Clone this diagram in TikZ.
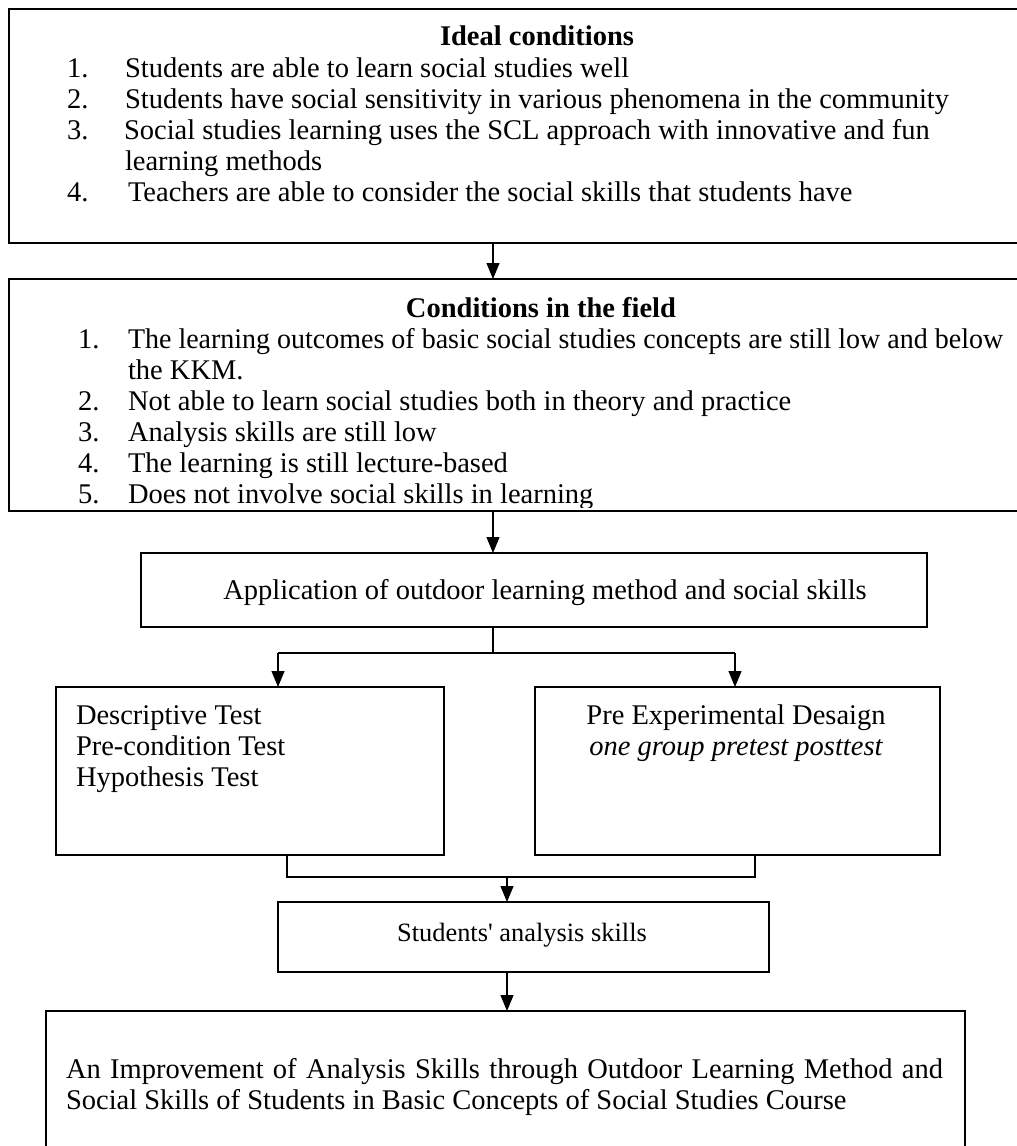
\documentclass[tikz,border=0pt]{standalone}
\usepackage{fontspec}
\usepackage{graphicx}
\setmainfont{Liberation Serif}
\usetikzlibrary{arrows.meta}
\newcommand{\myBody}{\fontsize{28.5}{31}\selectfont}
\newcommand{\myHead}{\fontsize{28.5}{31}\selectfont\bfseries}
\newcommand{\mySmall}{\fontsize{26.4}{30}\selectfont}
\begin{document}
\begin{tikzpicture}[x=1pt,y=-1pt,
  frame/.style={draw, line width=1.5pt, inner sep=0pt, outer sep=0pt},
  conn/.style={line width=1.1pt},
  arr/.style={conn, -{Triangle[length=16pt,width=13pt]}},
  txt/.style={inner sep=0pt, outer sep=0pt, font=\myBody},
  hd/.style={inner sep=0pt, outer sep=0pt, font=\myHead, anchor=base},
  lt/.style={txt, anchor=base west}
]
\useasboundingbox (0,0) rectangle (1017,1146);
\clip (0,0) rectangle (1017,1146);
\fill[white] (0,0) rectangle (1017,1146);

% boxes
\node[frame, minimum width=1031pt, minimum height=234pt] (box1) at (524.5,126) {};
\node[frame, minimum width=1031pt, minimum height=232pt] (box2) at (524.5,395) {};
\node[frame, minimum width=786pt, minimum height=74pt] (app) at (534,590) {};
\node[frame, minimum width=388pt, minimum height=168pt] (left) at (250,771) {};
\node[frame, minimum width=405pt, minimum height=168pt] (right) at (737.5,771) {};
\node[frame, minimum width=491pt, minimum height=70pt] (stud) at (523.5,937) {};
\node[frame, minimum width=919pt, minimum height=189pt] (final) at (505.5,1105.5) {};

% box 1 text
\node[hd] (h1) at (537,45) {Ideal conditions};
\node[lt] (n11) at (67,77) {1.};
\node[lt] (t11) at (125,77) {Students are able to learn social studies well};
\node[lt] (n12) at (67,108) {2.};
\node[lt] (t12) at (125,108) {Students have social sensitivity in various phenomena in the community};
\node[lt] (n13) at (67,139) {3.};
\node[lt] (t13) at (124,139) {Social studies learning uses the SCL approach with innovative and fun};
\node[lt] (t13b) at (125,170) {learning methods};
\node[lt] (n14) at (67,201) {4.};
\node[lt] (t14) at (128,201) {Teachers are able to consider the social skills that students have};

% box 2 text (clipped inside the frame)
\begin{scope}
\clip (box2.north west) rectangle ([yshift=4pt]box2.south east);
\node[hd] (h2) at (541,317) {Conditions in the field};
\node[lt] (n21) at (78,348) {1.};
\node[lt] (t21) at (128,348) {\scalebox{0.982}[1]{The learning outcomes of basic social studies concepts are still low and below}};
\node[lt] (t21b) at (128,379) {the KKM.};
\node[lt] (n22) at (78,410) {2.};
\node[lt] (t22) at (128,410) {Not able to learn social studies both in theory and practice};
\node[lt] (n23) at (78,441) {3.};
\node[lt] (t23) at (128,441) {Analysis skills are still low};
\node[lt] (n24) at (78,472) {4.};
\node[lt] (t24) at (128,472) {The learning is still lecture-based};
\node[lt] (n25) at (78,503) {5.};
\node[lt] (t25) at (128,503) {Does not involve social skills in learning};
\end{scope}

% application box
\node[txt, anchor=base] (tapp) at (545,599) {Application of outdoor learning method and social skills};

% left box
\node[lt] (tl1) at (76,724) {Descriptive Test};
\node[lt] (tl2) at (76,755) {Pre-condition Test};
\node[lt] (tl3) at (76,786) {Hypothesis Test};

% right box
\node[txt, anchor=base] (tr1) at (736,724) {Pre Experimental Desaign};
\node[txt, anchor=base] (tr2) at (736,755) {\itshape one group pretest posttest};

% students box
\node[inner sep=0pt, outer sep=0pt, font=\mySmall, anchor=base] (tst) at (522,941) {Students\textquotesingle\ analysis skills};

% final box
\node[lt] (tf1) at (66,1078) {\makebox[877pt][s]{An Improvement of Analysis Skills through Outdoor Learning Method and}};
\node[lt] (tf2) at (66,1109) {Social Skills of Students in Basic Concepts of Social Studies Course};

% connectors
\coordinate (c1) at (493,0);
\draw[arr] (box1.south -| c1) -- (box2.north -| c1);
\draw[arr] (box2.south -| c1) -- (app.north -| c1);
\coordinate (split) at (493,653);
\draw[conn] (app.south -| c1) -- (split);
\coordinate (sl) at (278,653);
\coordinate (sr) at (735,653);
\draw[conn] (sl) -- (sr);
\draw[arr] (sl) -- (left.north -| sl);
\draw[arr] (sr) -- (right.north -| sr);
\coordinate (jl) at (287,877);
\coordinate (jr) at (755,877);
\draw[conn] (left.south -| jl) -- (jl) -- (jr) -- (right.south -| jr);
\coordinate (jm) at (507,877);
\draw[arr] (jm) -- (stud.north -| jm);
\draw[arr] (stud.south -| jm) -- (final.north -| jm);
\end{tikzpicture}
\end{document}
